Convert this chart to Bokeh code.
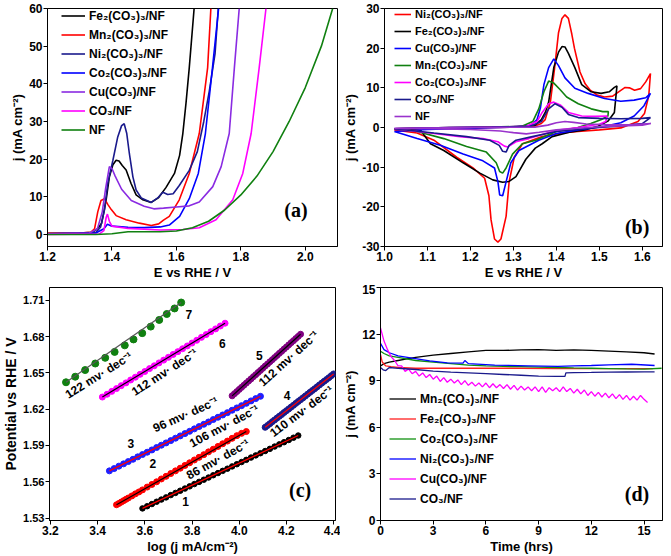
from bokeh.plotting import figure
from bokeh.models import Range1d, FixedTicker, Label, PrintfTickFormatter
from bokeh.layouts import column, row
from bokeh.core.properties import value
from bokeh.embed import file_html
from bokeh.resources import INLINE

# ---------------- (a) LSV ----------------
a_names = ["Fe\u2082(CO\u2083)\u2083/NF", "Mn\u2082(CO\u2083)\u2083/NF", "Ni\u2082(CO\u2083)\u2083/NF",
           "Co\u2082(CO\u2083)\u2083/NF", "Cu(CO\u2083)/NF", "CO\u2083/NF", "NF"]
a_colors = ["#000000", "#ff0000", "#1a1a8c", "#0000ff", "#8a2be2", "#ff00ff", "#108010"]
a_fe_E = [1.20, 1.30, 1.34, 1.355, 1.368, 1.375, 1.382, 1.392, 1.403, 1.413, 1.422, 1.432, 1.444, 1.459, 1.475, 1.496, 1.522, 1.545, 1.568, 1.594, 1.61, 1.62, 1.63, 1.64, 1.655]
a_fe_j = [0.3, 0.4, 0.6, 1.5, 3.0, 6.0, 9.2, 15.3, 18.5, 19.7, 19.5, 18.3, 17.1, 13.6, 10.5, 9.2, 8.5, 9.8, 12.5, 16.2, 21.0, 26.8, 35.0, 44.3, 60.0]
a_mn_E = [1.20, 1.30, 1.335, 1.346, 1.356, 1.366, 1.377, 1.387, 1.398, 1.413, 1.444, 1.485, 1.522, 1.545, 1.56, 1.578, 1.609, 1.64, 1.671, 1.697, 1.707]
a_mn_j = [0.3, 0.4, 0.6, 1.5, 6.0, 9.0, 9.5, 8.0, 6.6, 5.0, 3.9, 3.0, 2.4, 2.8, 3.8, 4.8, 9.2, 16.2, 26.8, 44.3, 60.0]
a_ni_E = [1.20, 1.30, 1.35, 1.365, 1.377, 1.387, 1.403, 1.418, 1.430, 1.438, 1.446, 1.454, 1.465, 1.475, 1.491, 1.522, 1.542, 1.558, 1.573, 1.59, 1.609, 1.64, 1.665, 1.685, 1.702, 1.72, 1.73]
a_ni_j = [0.2, 0.3, 0.5, 2.0, 6.6, 13.6, 19.7, 25.9, 28.9, 29.4, 26.8, 21.5, 15.3, 11.8, 9.7, 8.5, 9.7, 11.2, 10.6, 10.8, 13.0, 17.0, 22.0, 30.0, 38.0, 48.0, 60.0]
a_co_E = [1.20, 1.35, 1.375, 1.386, 1.40, 1.45, 1.50, 1.55, 1.578, 1.61, 1.64, 1.668, 1.69, 1.712, 1.731]
a_co_j = [0.2, 0.4, 1.5, 2.7, 2.2, 1.9, 1.8, 2.0, 2.5, 4.8, 9.5, 16.2, 26.8, 44.3, 60.0]
a_cu_E = [1.20, 1.33, 1.355, 1.37, 1.38, 1.392, 1.40, 1.41, 1.43, 1.46, 1.50, 1.53, 1.56, 1.60, 1.64, 1.671, 1.713, 1.739, 1.764, 1.780, 1.795]
a_cu_j = [0.2, 0.4, 1.5, 6.0, 12.0, 18.0, 17.5, 15.5, 12.0, 9.0, 7.5, 6.8, 7.0, 7.3, 7.6, 8.6, 12.7, 18.0, 26.8, 44.3, 60.0]
a_co3_E = [1.20, 1.36, 1.375, 1.382, 1.386, 1.392, 1.40, 1.45, 1.55, 1.62, 1.671, 1.723, 1.775, 1.806, 1.832, 1.857, 1.878]
a_co3_j = [0.0, 0.1, 1.0, 4.5, 5.4, 3.5, 2.2, 1.6, 1.2, 1.3, 1.8, 3.9, 9.2, 16.2, 26.8, 44.3, 60.0]
a_nf_E = [1.20, 1.35, 1.40, 1.45, 1.55, 1.60, 1.65, 1.70, 1.75, 1.80, 1.85, 1.90, 1.95, 2.00, 2.05, 2.085]
a_nf_j = [0.0, 0.0, 0.2, 0.7, 0.7, 0.9, 1.8, 3.5, 6.5, 10.5, 15.5, 22.0, 30.0, 39.0, 50.0, 60.0]
a_xticks = [1.2, 1.4, 1.6, 1.8, 2.0]
a_yticks = [0, 10, 20, 30, 40, 50, 60]

# ---------------- (b) CV ----------------
b_names = ["Ni\u2082(CO\u2083)\u2083/NF", "Fe\u2082(CO\u2083)\u2083/NF", "Cu(CO\u2083)/NF",
           "Mn\u2082(CO\u2083)\u2083/NF", "Co\u2082(CO\u2083)\u2083/NF", "CO\u2083/NF", "NF"]
b_colors = ["#ff0000", "#000000", "#0000ff", "#108010", "#ff00ff", "#1a1a8c", "#9932cc"]
b_ni_E = [1.023, 1.10, 1.20, 1.30, 1.35, 1.365, 1.374, 1.386, 1.396, 1.405, 1.413, 1.420, 1.428, 1.436, 1.442, 1.455, 1.467, 1.478, 1.495, 1.512, 1.531, 1.545, 1.560, 1.570, 1.582, 1.596, 1.608, 1.619,
          1.615, 1.605, 1.59, 1.55, 1.50, 1.45, 1.413, 1.367, 1.321, 1.302, 1.290, 1.283, 1.271, 1.264, 1.256, 1.248, 1.243, 1.233, 1.206, 1.168, 1.115, 1.076, 1.023]
b_ni_j = [-0.5, -0.3, -0.1, 0.1, 0.4, 1.0, 2.0, 6.4, 15.1, 23.9, 27.5, 28.4, 27.5, 23.5, 20.0, 14.0, 11.0, 9.5, 8.2, 7.7, 7.9, 9.0, 10.1, 10.0, 9.4, 9.8, 11.5, 13.6,
          8.0, 3.5, 1.5, -0.1, -0.6, -1.0, -1.4, -2.3, -4.1, -7.5, -13.7, -22.4, -28.1, -28.9, -28.1, -23.3, -17.2, -12.8, -10.2, -7.5, -3.2, -1.4, -0.6]
b_fe_E = [1.023, 1.10, 1.20, 1.30, 1.35, 1.365, 1.375, 1.382, 1.394, 1.405, 1.413, 1.420, 1.428, 1.443, 1.459, 1.481, 1.504, 1.523, 1.535, 1.541,
          1.535, 1.520, 1.497, 1.466, 1.43, 1.39, 1.367, 1.351, 1.329, 1.306, 1.29, 1.275, 1.252, 1.222, 1.183, 1.138, 1.107, 1.092, 1.084, 1.05, 1.023]
b_fe_j = [-0.3, -0.1, 0.0, 0.2, 0.5, 2.0, 4.0, 6.4, 15.1, 19.0, 20.4, 20.3, 18.7, 15.1, 10.8, 9.0, 8.6, 9.0, 10.1, 10.5,
          3.8, 1.6, 0.3, -0.6, -1.2, -2.3, -4.1, -5.2, -8.0, -12.4, -13.6, -13.8, -13.2, -11.5, -8.9, -5.8, -4.1, -1.9, -0.7, -0.4, -0.3]
b_cu_E = [1.023, 1.10, 1.20, 1.30, 1.34, 1.355, 1.363, 1.371, 1.382, 1.394, 1.405, 1.420, 1.443, 1.474, 1.512, 1.550, 1.581, 1.608, 1.619,
          1.604, 1.581, 1.550, 1.512, 1.45, 1.40, 1.359, 1.313, 1.294, 1.283, 1.275, 1.268, 1.264, 1.256, 1.229, 1.183, 1.130, 1.076, 1.023]
b_cu_j = [-1.0, -0.5, -0.2, 0.1, 0.5, 2.0, 5.0, 10.8, 15.1, 17.3, 15.6, 12.5, 9.9, 8.6, 7.3, 6.6, 6.9, 7.5, 8.6,
          5.5, 2.9, 1.2, 0.3, -0.6, -1.5, -3.2, -5.8, -8.9, -13.7, -17.2, -17.0, -13.7, -10.2, -8.4, -6.7, -4.5, -2.8, -1.0]
b_mn_E = [1.023, 1.15, 1.25, 1.32, 1.345, 1.359, 1.371, 1.382, 1.394, 1.409, 1.424, 1.451, 1.481, 1.508, 1.521,
          1.520, 1.505, 1.48, 1.45, 1.40, 1.352, 1.321, 1.298, 1.283, 1.275, 1.268, 1.260, 1.237, 1.191, 1.138, 1.076, 1.023]
b_mn_j = [-0.3, 0.0, 0.1, 0.3, 1.5, 4.7, 9.0, 11.7, 11.2, 9.5, 7.7, 6.0, 4.7, 4.0, 4.0,
          2.9, 2.0, 1.0, 0.0, -1.0, -3.2, -4.1, -6.7, -10.2, -11.5, -11.1, -8.9, -6.2, -4.8, -2.8, -1.0, -0.3]
b_co_E = [1.023, 1.15, 1.25, 1.33, 1.355, 1.367, 1.382, 1.394, 1.409, 1.428, 1.459, 1.490, 1.518,
          1.515, 1.50, 1.45, 1.40, 1.336, 1.306, 1.287, 1.279, 1.264, 1.229, 1.176, 1.115, 1.023]
b_co_j = [-0.3, 0.0, 0.1, 0.3, 1.5, 3.8, 6.0, 6.4, 5.7, 3.8, 2.9, 2.8, 2.9,
          1.5, 0.8, 0.0, -0.7, -2.8, -3.6, -4.9, -4.7, -3.6, -2.8, -2.3, -1.5, -0.3]
b_co3_E = [1.023, 1.15, 1.25, 1.34, 1.365, 1.382, 1.397, 1.413, 1.428, 1.451, 1.50, 1.55, 1.60, 1.619,
           1.60, 1.55, 1.50, 1.45, 1.40, 1.344, 1.306, 1.290, 1.283, 1.275, 1.267, 1.245, 1.191, 1.115, 1.023]
b_co3_j = [-0.3, 0.0, 0.1, 0.3, 1.5, 4.7, 6.0, 5.1, 3.3, 2.5, 2.3, 2.2, 2.3, 2.5,
           1.0, 0.4, 0.0, -0.5, -1.0, -2.3, -3.2, -4.5, -6.2, -6.0, -4.5, -3.2, -2.3, -1.4, -0.3]
b_nf_E = [1.023, 1.20, 1.35, 1.38, 1.40, 1.42, 1.44, 1.47, 1.52, 1.57, 1.62,
          1.60, 1.55, 1.50, 1.45, 1.40, 1.36, 1.33, 1.30, 1.27, 1.20, 1.10, 1.023]
b_nf_j = [-0.2, 0.0, 0.1, 0.6, 1.2, 1.5, 1.3, 0.9, 0.7, 0.7, 1.0,
          0.6, 0.4, 0.2, -0.2, -0.6, -1.2, -1.6, -1.3, -0.9, -0.5, -0.3, -0.2]
b_xticks = [1.0, 1.1, 1.2, 1.3, 1.4, 1.5, 1.6]
b_yticks = [-30, -20, -10, 0, 10, 20, 30]

# ---------------- (c) Tafel ----------------
c_colors = ["#000000", "#ff0000", "#1f1fff", "#1a1a8c", "#800080", "#ff00ff", "#108010"]
c_fit_colors = ["#ff0000", "#000000", "#ff0000", "#ff0000", "#000000", "#000000", "#555555"]
c1_x = [3.59, 3.61, 3.63, 3.65, 3.67, 3.69, 3.71, 3.73, 3.75, 3.77, 3.79, 3.81, 3.83, 3.85, 3.87, 3.89, 3.91, 3.93, 3.95, 3.97, 3.99, 4.01, 4.03, 4.05, 4.07, 4.09, 4.11, 4.13, 4.15, 4.17, 4.19, 4.21, 4.23, 4.25]
c1_y = [1.5380, 1.5398, 1.5416, 1.5435, 1.5453, 1.5471, 1.5490, 1.5508, 1.5526, 1.5544, 1.5562, 1.5581, 1.5599, 1.5617, 1.5635, 1.5654, 1.5672, 1.5690, 1.5708, 1.5727, 1.5745, 1.5763, 1.5781, 1.5800, 1.5818, 1.5836, 1.5854, 1.5872, 1.5891, 1.5909, 1.5927, 1.5945, 1.5964, 1.5982]
c2_x = [3.48, 3.49, 3.50, 3.51, 3.52, 3.53, 3.545, 3.56, 3.575, 3.59, 3.61, 3.63, 3.65, 3.67, 3.69, 3.71, 3.73, 3.75, 3.77, 3.79, 3.81, 3.83, 3.85, 3.87, 3.89, 3.91, 3.93, 3.95, 3.97, 3.99, 4.01, 4.03]
c2_y = [1.5410, 1.5421, 1.5432, 1.5444, 1.5455, 1.5466, 1.5483, 1.5500, 1.5516, 1.5533, 1.5556, 1.5578, 1.5600, 1.5623, 1.5645, 1.5668, 1.5690, 1.5712, 1.5735, 1.5757, 1.5780, 1.5802, 1.5824, 1.5847, 1.5869, 1.5892, 1.5914, 1.5936, 1.5959, 1.5981, 1.6000, 1.6015]
c3_x = [3.45, 3.47, 3.49, 3.51, 3.53, 3.55, 3.57, 3.59, 3.61, 3.63, 3.65, 3.67, 3.69, 3.71, 3.73, 3.75, 3.77, 3.79, 3.81, 3.83, 3.85, 3.87, 3.89, 3.91, 3.93, 3.95, 3.97, 3.99, 4.01, 4.03, 4.05, 4.07, 4.09]
c3_y = [1.5690, 1.5709, 1.5729, 1.5748, 1.5767, 1.5786, 1.5806, 1.5825, 1.5844, 1.5863, 1.5883, 1.5902, 1.5921, 1.5940, 1.5960, 1.5979, 1.5998, 1.6017, 1.6037, 1.6056, 1.6075, 1.6094, 1.6114, 1.6133, 1.6152, 1.6171, 1.6191, 1.6210, 1.6229, 1.6248, 1.6268, 1.6287, 1.6306]
c4_x = [4.11, 4.12, 4.13, 4.14, 4.15, 4.16, 4.17, 4.18, 4.19, 4.20, 4.21, 4.22, 4.23, 4.24, 4.25, 4.26, 4.27, 4.28, 4.29, 4.30, 4.31, 4.32, 4.33, 4.34, 4.35, 4.36, 4.37, 4.38, 4.39, 4.40]
c4_y = [1.6050, 1.6065, 1.6080, 1.6096, 1.6111, 1.6126, 1.6141, 1.6156, 1.6172, 1.6187, 1.6202, 1.6217, 1.6232, 1.6248, 1.6263, 1.6278, 1.6293, 1.6308, 1.6324, 1.6339, 1.6354, 1.6369, 1.6384, 1.6400, 1.6415, 1.6430, 1.6445, 1.6460, 1.6476, 1.6491]
c5_x = [3.97, 3.98, 3.99, 4.00, 4.01, 4.02, 4.03, 4.04, 4.05, 4.06, 4.07, 4.08, 4.09, 4.10, 4.11, 4.12, 4.13, 4.14, 4.15, 4.16, 4.17, 4.18, 4.19, 4.20, 4.21, 4.22, 4.23, 4.24, 4.25, 4.26]
c5_y = [1.6310, 1.6328, 1.6345, 1.6363, 1.6380, 1.6398, 1.6415, 1.6433, 1.6450, 1.6468, 1.6485, 1.6503, 1.6520, 1.6538, 1.6556, 1.6573, 1.6591, 1.6608, 1.6626, 1.6643, 1.6661, 1.6678, 1.6696, 1.6713, 1.6731, 1.6749, 1.6766, 1.6784, 1.6801, 1.6819]
c6_x = [3.42, 3.44, 3.46, 3.48, 3.50, 3.52, 3.54, 3.56, 3.58, 3.60, 3.62, 3.64, 3.66, 3.68, 3.70, 3.72, 3.74, 3.76, 3.78, 3.80, 3.82, 3.84, 3.86, 3.88, 3.90, 3.92, 3.94]
c6_y = [1.6300, 1.6323, 1.6347, 1.6370, 1.6394, 1.6417, 1.6441, 1.6464, 1.6488, 1.6511, 1.6535, 1.6558, 1.6582, 1.6605, 1.6628, 1.6652, 1.6675, 1.6699, 1.6722, 1.6746, 1.6769, 1.6793, 1.6816, 1.6840, 1.6863, 1.6887, 1.6910]
c7_x = [3.266, 3.305, 3.347, 3.390, 3.432, 3.472, 3.515, 3.552, 3.589, 3.625, 3.661, 3.693, 3.726, 3.754]
c7_y = [1.6422, 1.6468, 1.6523, 1.6577, 1.6624, 1.6673, 1.6727, 1.6776, 1.6828, 1.6882, 1.6937, 1.6986, 1.7032, 1.7081]
c_num_text = ["7", "6", "5", "4", "3", "2", "1"]
c_num_x = [3.787, 3.928, 4.085, 4.203, 3.541, 3.634, 3.773]
c_num_y = [1.698, 1.6746, 1.664, 1.6313, 1.5918, 1.5752, 1.5433]
c_slope_text = ["122 mv\u00b7 dec\u207b\u00b9", "112 mv\u00b7 dec\u207b\u00b9", "112 mv\u00b7 dec\u207b\u00b9",
                "96 mv\u00b7 dec\u207b\u00b9", "106 mv\u00b7 dec\u207b\u00b9", "110 mv\u00b7 dec\u207b\u00b9", "86 mv\u00b7 dec\u207b\u00b9"]
c_slope_x = [3.405, 3.684, 4.210, 3.773, 3.937, 4.265, 3.910]
c_slope_y = [1.6480, 1.6505, 1.6618, 1.6155, 1.606, 1.6182, 1.5785]
c_slope_deg = [32, 33, 42, 24, 28, 37, 29]
c_xticks = [3.2, 3.4, 3.6, 3.8, 4.0, 4.2, 4.4]
c_yticks = [1.53, 1.56, 1.59, 1.62, 1.65, 1.68, 1.71]

# ---------------- (d) stability ----------------
d_names = ["Mn\u2082(CO\u2083)\u2083/NF", "Fe\u2082(CO\u2083)\u2083/NF", "Co\u2082(CO\u2083)\u2083/NF",
           "Ni\u2082(CO\u2083)\u2083/NF", "Cu(CO\u2083)/NF", "CO\u2083/NF"]
d_colors = ["#000000", "#ff2020", "#109010", "#0000ff", "#ff00ff", "#1a1a8c"]
d_mn_t = [0, 0.2, 0.5, 1, 1.5, 2, 3, 4, 5, 6, 7, 8, 9, 10, 11, 12, 13, 14, 15, 15.6]
d_mn_j = [9.95, 10.1, 10.2, 10.3, 10.4, 10.5, 10.65, 10.75, 10.85, 10.95, 10.95, 10.98, 11.0, 10.95, 10.98, 10.95, 10.9, 10.85, 10.8, 10.72]
d_fe_t = [0, 0.1, 0.3, 0.6, 1, 2, 4, 6, 8, 10, 12, 14, 15.5]
d_fe_j = [10.7, 10.2, 9.95, 9.9, 9.85, 9.8, 9.8, 9.8, 9.8, 9.78, 9.78, 9.78, 9.78]
d_co_t = [0, 0.2, 0.5, 1, 2, 3, 4, 5, 6, 7, 8, 9, 10, 11, 12, 13, 14, 15, 16]
d_co_j = [10.9, 10.75, 10.6, 10.5, 10.3, 10.2, 10.1, 10.0, 9.95, 9.92, 9.9, 9.88, 9.85, 9.82, 9.8, 9.78, 9.76, 9.75, 9.8]
d_ni_t = [0, 0.2, 0.5, 1, 1.8, 2.8, 3.8, 4.7, 4.8, 5, 6.5, 8.4, 10.1, 11, 12, 13, 14.3, 15.6]
d_ni_j = [11.4, 11.0, 10.8, 10.6, 10.45, 10.28, 10.15, 10.13, 10.3, 10.1, 10.0, 9.96, 9.92, 9.95, 9.98, 10.02, 10.06, 9.98]
d_cu_t = [0.0, 0.2, 0.4, 0.6, 0.8, 1.0, 1.2, 1.4, 1.6, 1.8, 2.0, 2.2, 2.4, 2.6, 2.8, 3.0, 3.2, 3.4, 3.6, 3.8, 4.0, 4.2, 4.4, 4.6, 4.8, 5.0,
          5.2, 5.4, 5.6, 5.8, 6.0, 6.2, 6.4, 6.6, 6.8, 7.0, 7.2, 7.4, 7.6, 7.8, 8.0, 8.2, 8.4, 8.6, 8.8, 9.0, 9.2, 9.4, 9.6, 9.8, 10.0,
          10.2, 10.4, 10.6, 10.8, 11.0, 11.2, 11.4, 11.6, 11.8, 12.0, 12.2, 12.4, 12.6, 12.8, 13.0, 13.2, 13.4, 13.6, 13.8, 14.0, 14.2,
          14.4, 14.6, 14.8, 15.0, 15.2]
d_cu_j = [12.40, 11.55, 11.00, 10.55, 10.30, 9.95, 9.95, 9.60, 9.75, 9.45, 9.60, 9.30, 9.50, 9.20, 9.40, 9.10, 9.30, 8.95, 9.20, 8.90, 9.10, 8.85, 9.05, 8.75, 9.00, 8.70,
          8.90, 8.65, 8.85, 8.60, 8.85, 8.55, 8.80, 8.55, 8.75, 8.50, 8.75, 8.45, 8.70, 8.40, 8.65, 8.40, 8.60, 8.35, 8.60, 8.30, 8.60, 8.25, 8.55, 8.35, 8.55,
          8.30, 8.60, 8.30, 8.50, 8.20, 8.45, 8.15, 8.40, 8.05, 8.30, 8.00, 8.25, 7.95, 8.20, 7.90, 8.15, 7.85, 8.10, 7.80, 8.05, 7.75,
          8.00, 7.75, 8.05, 7.80, 7.60]
d_co3_t = [0, 0.15, 0.3, 0.5, 1, 2, 3, 4, 5, 6, 7, 8, 9, 10, 10.5, 10.55, 11, 12, 13, 14, 15, 15.6]
d_co3_j = [9.85, 9.7, 9.65, 9.85, 9.8, 9.72, 9.62, 9.55, 9.5, 9.45, 9.4, 9.35, 9.3, 9.28, 9.28, 9.5, 9.52, 9.53, 9.55, 9.56, 9.57, 9.57]
d_xticks = [0, 3, 6, 9, 12, 15]
d_yticks = [0, 3, 6, 9, 12, 15]

FONT = "Liberation Sans"


def make_fig(w, h, xr, yr, bl, br, bt, bb):
    p = figure(width=w, height=h, x_range=Range1d(*xr), y_range=Range1d(*yr),
               output_backend="svg", toolbar_location=None,
               min_border_left=bl, min_border_right=br, min_border_top=bt, min_border_bottom=bb)
    p.xgrid.visible = False
    p.ygrid.visible = False
    p.outline_line_color = "black"
    p.outline_line_width = 1
    p.outline_line_alpha = 1
    p.background_fill_color = "white"
    p.border_fill_color = "white"
    return p


def style_axes(p, xlabel, ylabel, xt, yt, xfmt, yfmt, tick_fs="12px", lab_fs="13px", ylab_fs=None, ytick_fs=None):
    p.xaxis.ticker = FixedTicker(ticks=xt, num_minor_ticks=2)
    p.yaxis.ticker = FixedTicker(ticks=yt, num_minor_ticks=2)
    p.xaxis.formatter = PrintfTickFormatter(format=xfmt)
    p.yaxis.formatter = PrintfTickFormatter(format=yfmt)
    p.xaxis.axis_label = xlabel
    p.yaxis.axis_label = ylabel
    for ax in (p.xaxis[0], p.yaxis[0]):
        ax.axis_line_color = "black"
        ax.major_tick_line_color = "black"
        ax.minor_tick_line_color = "black"
        ax.major_tick_in = 0
        ax.major_tick_out = 4
        ax.minor_tick_in = 0
        ax.minor_tick_out = 2
        ax.major_label_text_font = FONT
        ax.major_label_text_font_style = "bold"
        ax.major_label_text_font_size = tick_fs
        ax.major_label_text_color = "black"
        ax.major_label_standoff = 1
        ax.axis_label_text_font = FONT
        ax.axis_label_text_font_style = "bold"
        ax.axis_label_text_font_size = lab_fs
        ax.axis_label_text_color = "black"
        ax.axis_label_standoff = 1
    if ylab_fs:
        p.yaxis[0].axis_label_text_font_size = ylab_fs
    if ytick_fs:
        p.yaxis[0].major_label_text_font_size = ytick_fs


def style_legend(p, loc, fs, gw, gh, sp):
    lg = p.legend[0]
    lg.location = loc
    lg.border_line_alpha = 0
    lg.background_fill_alpha = 0
    lg.label_text_font = FONT
    lg.label_text_font_style = "bold"
    lg.label_text_font_size = fs
    lg.label_text_color = "black"
    lg.glyph_width = gw
    lg.glyph_height = gh
    lg.label_height = gh
    lg.spacing = sp
    lg.padding = 0
    lg.margin = 0
    lg.label_standoff = 4


def panel_label(p, x, y, txt):
    p.add_layout(Label(x=x, y=y, text=txt, text_font="Liberation Serif", text_font_style="bold",
                       text_font_size="20px", text_align="center", text_baseline="middle",
                       text_color="black"))


# ----- (a)
pa = make_fig(340, 284, (1.2, 2.1), (-3.2, 60), 47, 3, 8, 38)
a_series = [(a_fe_E, a_fe_j), (a_mn_E, a_mn_j), (a_ni_E, a_ni_j), (a_co_E, a_co_j),
            (a_cu_E, a_cu_j), (a_co3_E, a_co3_j), (a_nf_E, a_nf_j)]
for (xs, ys), nm, c in zip(a_series, a_names, a_colors):
    pa.line(xs, ys, line_color=c, line_width=1.6, legend_label=nm)
style_axes(pa, "E vs RHE / V", "j (mA cm\u207b\u00b2)", a_xticks, a_yticks, "%.1f", "%d")
style_legend(pa, (14, 109), "12px", 24, 15, 4)
panel_label(pa, 1.971, 6.6, "(a)")

# ----- (b)
pb = make_fig(331, 284, (1.0, 1.647), (-30, 30), 40, 9, 8, 38)
b_series = [(b_ni_E, b_ni_j), (b_fe_E, b_fe_j), (b_cu_E, b_cu_j), (b_mn_E, b_mn_j),
            (b_co_E, b_co_j), (b_co3_E, b_co3_j), (b_nf_E, b_nf_j)]
for (xs, ys), nm, c in zip(b_series, b_names, b_colors):
    pb.line(xs, ys, line_color=c, line_width=1.6, legend_label=nm)
style_axes(pb, "E vs RHE / V", "j (mA cm\u207b\u00b2)", b_xticks, b_yticks, "%.1f", "%d")
style_legend(pb, (10, 123), "11px", 17, 14, 3)
panel_label(pb, 1.588, -25.0, "(b)")

# ----- (c)
pc = make_fig(340, 272, (3.196, 4.408), (1.528, 1.7205), 39, 5, 3, 36)
c_series = [(c1_x, c1_y), (c2_x, c2_y), (c3_x, c3_y), (c4_x, c4_y), (c5_x, c5_y), (c6_x, c6_y), (c7_x, c7_y)]
c_sizes = [5.5, 6, 6, 6, 6, 6, 7]
for (xs, ys), c, fc, s in zip(c_series, c_colors, c_fit_colors, c_sizes):
    pc.scatter(xs, ys, size=s, fill_color=c, line_color=c)
    pc.line([xs[0], xs[-1]], [ys[0], ys[-1]], line_color=fc, line_width=1.2)
pc.text(x=c_num_x, y=c_num_y, text=c_num_text, text_font=value(FONT), text_font_style="bold",
        text_font_size="12px", text_align="center", text_baseline="middle", text_color="black")
pc.text(x=c_slope_x, y=c_slope_y, text=c_slope_text, angle=[d * 3.14159265 / 180 for d in c_slope_deg],
        text_font=value(FONT), text_font_style="bold", text_font_size="12px",
        text_align="center", text_baseline="middle", text_color="black")
style_axes(pc, "log (j mA/cm\u207b\u00b2)", "Potential vs RHE / V", c_xticks, c_yticks, "%.1f", "%.2f",
           tick_fs="12px", lab_fs="13px", ylab_fs="14px", ytick_fs="11px")
panel_label(pc, 4.258, 1.5529, "(c)")

# ----- (d)
pd_ = make_fig(331, 272, (0, 16.05), (0, 15), 39, 9, 3, 36)
d_series = [(d_mn_t, d_mn_j), (d_fe_t, d_fe_j), (d_co_t, d_co_j), (d_ni_t, d_ni_j),
            (d_cu_t, d_cu_j), (d_co3_t, d_co3_j)]
for (xs, ys), nm, c in zip(d_series, d_names, d_colors):
    pd_.line(xs, ys, line_color=c, line_width=1.3, legend_label=nm)
style_axes(pd_, "Time (hrs)", "j (mA cm\u207b\u00b2)", d_xticks, d_yticks, "%d", "%d")
style_legend(pd_, (9, 14), "12px", 27, 15, 5)
panel_label(pd_, 14.6, 1.71, "(d)")

layout = column(row(pa, pb, spacing=0), row(pc, pd_, spacing=0), spacing=0)
open("out.html", "w").write(file_html(layout, INLINE))
